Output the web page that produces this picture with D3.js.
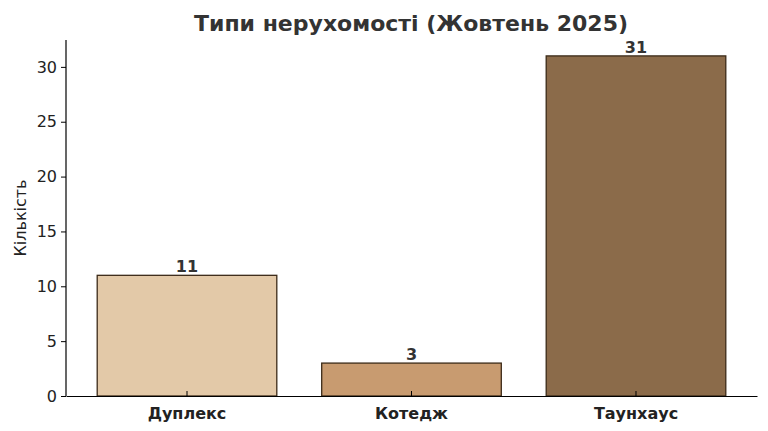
<!DOCTYPE html>
<html><head><meta charset="utf-8">
<script src="https://cdn.jsdelivr.net/npm/d3@7"></script>
<style>body{margin:0;background:#fff}text{font-family:"DejaVu Sans",sans-serif}</style>
</head><body><svg id="c" width="768" height="431"></svg>
<script>
const categories=["Дуплекс","Котедж","Таунхаус"];
const values=[11,3,31];
const colors=["#e3c9a8","#c89b70","#8b6b4a"];
const yTicks=[0,5,10,15,20,25,30];
const svg=d3.select("#c");
const L=66,R=757,T=40,B=396;
const x=d3.scaleBand().domain(categories).range([L,R]).paddingInner(0.2).paddingOuter(0.139);
const y=d3.scaleLinear().domain([0,32.45]).range([B,T]);
svg.selectAll("rect.b").data(values).join("rect").attr("class","b")
 .attr("x",(d,i)=>x(categories[i])).attr("width",x.bandwidth())
 .attr("y",d=>y(d)).attr("height",d=>B-y(d))
 .attr("fill",(d,i)=>colors[i]).attr("stroke","#3b2a18").attr("stroke-width",1.3);
svg.selectAll("text.v").data(values).join("text").attr("class","v")
 .attr("x",(d,i)=>x(categories[i])+x.bandwidth()/2).attr("y",d=>y(d)-3)
 .attr("text-anchor","middle").attr("font-size",16).attr("font-weight","bold").attr("fill","#333").text(d=>d);
const ya=svg.append("g").attr("transform",`translate(${L},0)`)
 .call(d3.axisLeft(y).tickValues(yTicks).tickSize(5).tickPadding(4));
ya.select(".domain").attr("d",`M0,${T}V${B}`).attr("stroke","#000").attr("stroke-width",1.2);
ya.selectAll("text").attr("font-size",16).attr("fill","#222");
const xa=svg.append("g").attr("transform",`translate(0,${B})`)
 .call(d3.axisBottom(x).tickSize(-5).tickPadding(12).tickSizeOuter(0));
xa.select(".domain").attr("stroke","#000").attr("stroke-width",1.2);
xa.selectAll("text").attr("font-size",16).attr("font-weight","bold").attr("fill","#222");
svg.append("text").attr("x",411).attr("y",31).attr("text-anchor","middle")
 .attr("font-size",22).attr("font-weight","bold").attr("fill","#333").text("Типи нерухомості (Жовтень 2025)");
svg.append("text").attr("transform",`translate(26,218) rotate(-90)`).attr("text-anchor","middle")
 .attr("font-size",16).attr("fill","#222").text("Кількість");
</script></body></html>
